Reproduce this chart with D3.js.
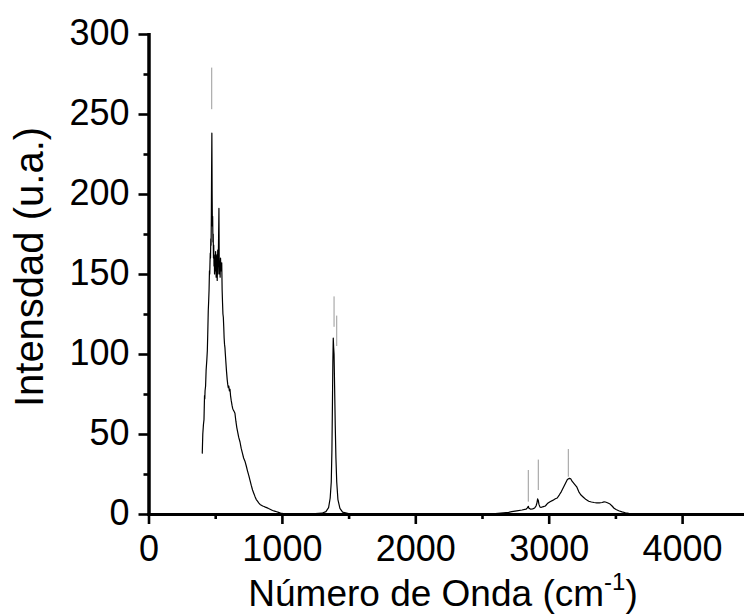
<!DOCTYPE html>
<html>
<head>
<meta charset="utf-8">
<script src="https://cdn.jsdelivr.net/npm/d3@7"></script>
<style>
  html, body { margin: 0; padding: 0; background: #fff; }
  svg { display: block; }
  text { font-family: "Liberation Sans", Arial, sans-serif; fill: #000; }
</style>
</head>
<body>
<script>
// ---------- data ----------
const wavenumber = [
  400, 403, 407, 412, 416, 420, 422, 424, 428, 432, 437, 441, 444, 448, 451, 454, 457, 459, 461, 463,
  465, 467, 469, 471, 473, 475, 477, 479, 481, 483, 485, 487, 489, 491, 493, 495, 497, 499, 501, 503,
  505, 507, 509, 511, 513, 515, 517, 519, 521, 523, 525, 528, 530, 532, 534, 537, 540, 543, 546, 549,
  552, 555, 558, 561, 564, 567, 570, 573, 576, 580, 585, 590, 594, 598, 602, 606, 611, 615, 620, 626,
  631, 636, 642, 648, 655, 662, 669, 676, 686, 695, 704, 713, 723, 733, 742, 752, 761, 770, 780, 789,
  798, 808, 817, 826, 836, 846, 856, 866, 876, 886, 900, 915, 930, 945, 961, 975, 990, 1010, 1050, 1100,
  1250, 1300, 1330, 1350, 1362, 1370, 1375, 1379, 1382, 1385, 1388, 1391, 1395, 1400, 1405, 1411, 1420, 1435, 1455, 1500,
  1600, 2600, 2700, 2723, 2760, 2800, 2830, 2840, 2847, 2852, 2865, 2880, 2895, 2905, 2912, 2917, 2922, 2927, 2935, 2945,
  2960, 2975, 2990, 3010, 3030, 3050, 3064, 3080, 3095, 3110, 3125, 3140, 3155, 3165, 3175, 3190, 3210, 3225, 3240, 3260,
  3280, 3300, 3320, 3340, 3360, 3380, 3400, 3415, 3425, 3440, 3460, 3475, 3490, 3505, 3525, 3550, 3575, 3600, 3650, 3700
];
const intensity = [
  38, 38, 50, 56, 59, 74, 72, 77, 80, 90, 96, 102, 112, 127, 133, 140, 152, 150, 157, 163,
  160, 172, 168, 185, 215, 238, 200, 180, 186, 170, 175, 160, 168, 155, 162, 150, 156, 160, 152, 164,
  155, 148, 158, 150, 162, 146, 155, 165, 150, 160, 170, 191, 160, 150, 158, 148, 160, 152, 156, 157,
  140, 132, 125, 123, 117, 110, 106, 104, 100, 95, 89, 84, 81, 79, 80, 77, 78, 74, 71, 68,
  66, 65, 64, 63, 58, 54, 51, 48, 45, 41, 38, 35, 33, 30, 27, 24, 21, 18, 15, 13,
  11, 9, 8, 7, 6, 5.5, 5, 4.7, 4.3, 4, 3.4, 2.8, 2.2, 1.8, 1.4, 1, 0.6, 0.3, 0.1, 0.05,
  0.2, 0.5, 1.5, 4, 10, 20, 40, 70, 95, 110, 104, 100, 80, 55, 35, 20, 9, 3.5, 1.2, 0.3,
  0.1, 0.2, 1, 1.5, 2, 2.5, 3, 3.8, 4.8, 3.6, 3, 3.2, 3.8, 5, 7, 9.4, 8.5, 6, 4.3, 4.2,
  4.6, 5, 6.5, 7.7, 8.5, 9.5, 10, 12, 14, 16.5, 19, 21.5, 22.3, 22, 20.5, 19, 17, 14, 12, 10.5,
  9, 8, 7.5, 7.2, 7, 7, 7.2, 7.6, 7.5, 7, 6.2, 5, 3.6, 2.8, 2, 1.3, 0.8, 0.4, 0.1, 0
];
// gray peak-marker segments
const markerWave = [474, 1391, 1411, 2847, 2922, 3147];
const markerLow  = [253, 117, 105, 7.7, 15, 23.3];
const markerHigh = [279, 136, 124, 27.5, 34, 40.6];

const xMajorTicks = [0, 1000, 2000, 3000, 4000];
const xMinorTicks = [500, 1500, 2500, 3500, 4500];
const yMajorTicks = [0, 50, 100, 150, 200, 250, 300];
const yMinorTicks = [25, 75, 125, 175, 225, 275];

const xTitle = "Número de Onda (cm";
const xTitleSup = "-1";
const yTitle = "Intensdad (u.a.)";

// ---------- layout ----------
const W = 744, H = 615;
const x = d3.scaleLinear().domain([0, 4500]).range([148.5, 748.8]);
const y = d3.scaleLinear().domain([0, 300]).range([514, 34]);

const svg = d3.select("body").append("svg").attr("width", W).attr("height", H);

// spectrum
const pts = wavenumber.map((w, i) => [w, intensity[i]]);
svg.append("path")
  .datum(pts)
  .attr("fill", "none")
  .attr("stroke", "#000")
  .attr("stroke-width", 1.2)
  .attr("stroke-linejoin", "round")
  .attr("d", d3.line().x(d => x(d[0])).y(d => y(d[1])));

// markers
svg.append("g").selectAll("line")
  .data(markerWave.map((w, i) => ({ w, lo: markerLow[i], hi: markerHigh[i] })))
  .join("line")
  .attr("x1", d => x(d.w)).attr("x2", d => x(d.w))
  .attr("y1", d => y(d.lo)).attr("y2", d => y(d.hi))
  .attr("stroke", "#9a9a9a").attr("stroke-width", 1);

// axes
const axisW = 3;
function styleAxis(g) {
  g.select(".domain").attr("stroke", "#000").attr("stroke-width", axisW);
  g.selectAll(".tick line").attr("stroke", "#000").attr("stroke-width", 2.6);
}

const gx = svg.append("g").attr("transform", `translate(0,${y(0)})`)
  .call(d3.axisBottom(x).tickValues(xMajorTicks).tickSize(10).tickSizeOuter(0).tickFormat(d => d));
styleAxis(gx);
gx.selectAll(".tick text").attr("font-size", 36).attr("y", 0).attr("dy", 47)
  .style("font-family", "'Liberation Sans', Arial, sans-serif");
const gxm = svg.append("g").attr("transform", `translate(0,${y(0)})`)
  .call(d3.axisBottom(x).tickValues(xMinorTicks).tickSize(5).tickSizeOuter(0).tickFormat(""));
styleAxis(gxm);

const gy = svg.append("g").attr("transform", `translate(${x(0)},0)`)
  .call(d3.axisLeft(y).tickValues(yMajorTicks).tickSize(10).tickSizeOuter(0).tickFormat(d => d));
styleAxis(gy);
gy.selectAll(".tick text").attr("font-size", 36).attr("x", -19).attr("dy", 10)
  .style("font-family", "'Liberation Sans', Arial, sans-serif");
const gym = svg.append("g").attr("transform", `translate(${x(0)},0)`)
  .call(d3.axisLeft(y).tickValues(yMinorTicks).tickSize(5).tickSizeOuter(0).tickFormat(""));
styleAxis(gym);
svg.selectAll(".domain").attr("stroke-linecap", "square");

// titles
const xt = svg.append("text")
  .attr("x", 443).attr("y", 606)
  .attr("text-anchor", "middle")
  .attr("font-size", 37);
xt.append("tspan").text(xTitle);
xt.append("tspan").attr("font-size", 24).attr("dy", -16).text(xTitleSup);
xt.append("tspan").attr("dy", 16).text(")");

svg.append("text")
  .attr("transform", "translate(43,267) rotate(-90)")
  .attr("text-anchor", "middle")
  .attr("font-size", 40)
  .text(yTitle);
</script>
</body>
</html>
